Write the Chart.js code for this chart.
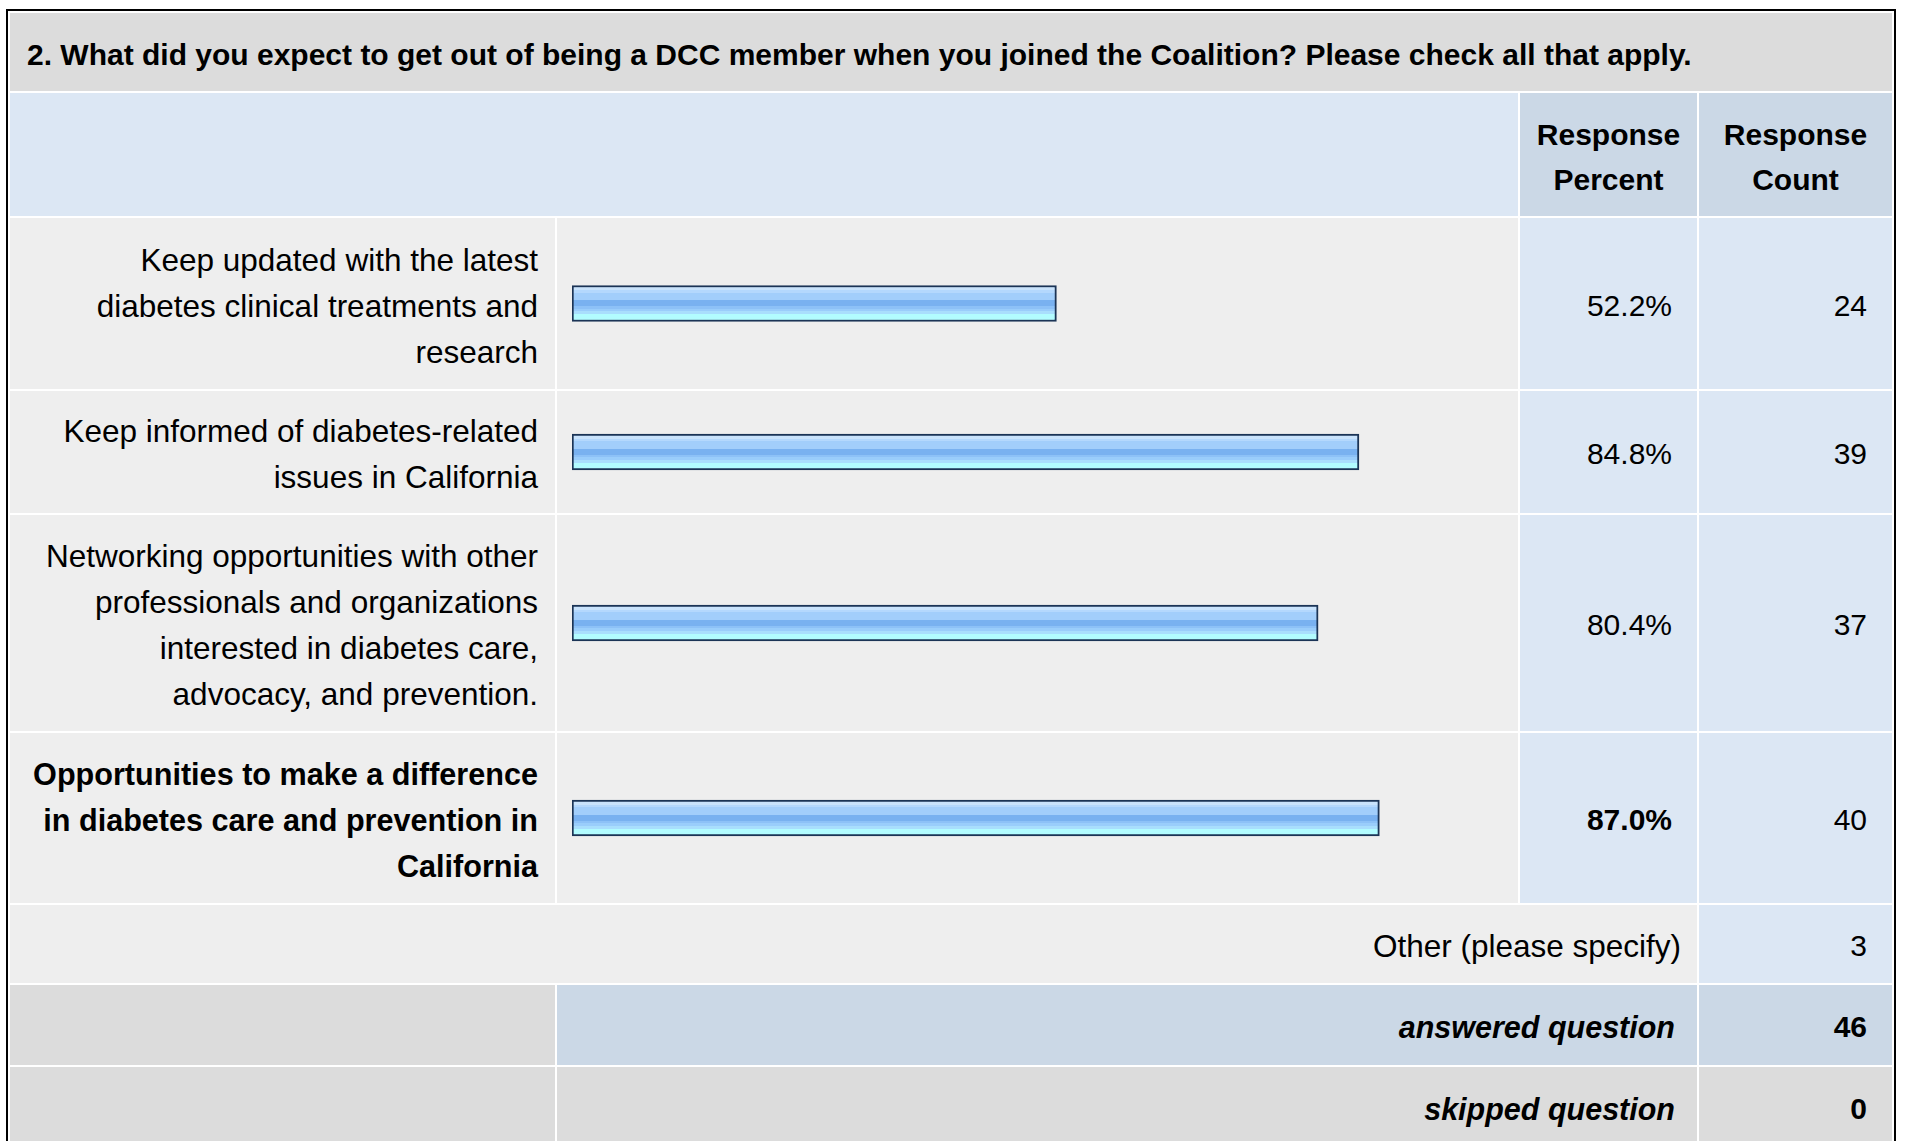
<!DOCTYPE html>
<html>
<head>
<meta charset="utf-8">
<script src="https://cdn.jsdelivr.net/npm/chart.js@4.4.1/dist/chart.umd.min.js"></script>
<style>
    html, body { margin: 0; padding: 0; background: #fff; overflow: hidden; }
    body { width: 1907px; height: 1141px; font-family: "Liberation Sans", Arial, sans-serif; color: #000; }
    #frame {
        position: absolute; left: 6px; top: 9px; width: 1886px; height: 1160px;
        border: 2px solid #000; background: #fff;
    }
    #grid {
        display: grid;
        grid-template-columns: 545px 961px 177px 193px;
        grid-template-rows: 78px 123px 171px 122px 216px 170px 78px 80px 80px;
        gap: 2px; padding: 2px;
    }
    .cell { display: flex; align-items: center; box-sizing: border-box; }
    .title { grid-column: 1 / 5; background: #dcdcdc; font-weight: bold; font-size: 30px; padding-left: 17px; padding-top: 6px; }
    .hblank { grid-column: 1 / 3; background: #dce7f4; }
    .hcol { background: #cbd8e6; font-weight: bold; font-size: 30px; line-height: 45px; justify-content: center; text-align: center; padding-top: 5px; }
    .label { background: #eeeeee; justify-content: flex-end; text-align: right; white-space: pre-line; font-size: 31.5px; line-height: 46px; padding-right: 17px; padding-top: 4px; }
    .label.strong { font-size: 30.6px; }
    .bar { background: #eeeeee; position: relative; }
    .bar .wrap { position: absolute; left: 15px; top: 0; width: 928px; height: 100%; }
    .pct { background: #dce7f4; justify-content: flex-end; font-size: 30px; padding-right: 25px; padding-top: 4px; }
    .cnt { background: #dce7f4; justify-content: flex-end; font-size: 30px; padding-right: 25px; padding-top: 4px; }
    .strong { font-weight: bold; }
    .other { grid-column: 1 / 4; background: #eeeeee; justify-content: flex-end; font-size: 31.5px; padding-right: 16px; padding-top: 4px; }
    .sumlead { background: #dcdcdc; }
    .sumtext { grid-column: 2 / 4; justify-content: flex-end; font-size: 30.5px; font-weight: bold; font-style: italic; padding-right: 22px; padding-top: 4px; }
    .sumcnt { justify-content: flex-end; font-size: 30px; font-weight: bold; padding-right: 25px; padding-top: 4px; }
    .blue { background: #cbd8e6; }
    .gray { background: #dcdcdc; }
</style>
</head>
<body>
<div id="frame"><div id="grid"></div></div>

<script>
// Survey question 2 - response summary
const questionTitle = '2. What did you expect to get out of being a DCC member when you joined the Coalition? Please check all that apply.';

const categories = [
    'Keep updated with the latest\ndiabetes clinical treatments and\nresearch',
    'Keep informed of diabetes-related\nissues in California',
    'Networking opportunities with other\nprofessionals and organizations\ninterested in diabetes care,\nadvocacy, and prevention.',
    'Opportunities to make a difference\nin diabetes care and prevention in\nCalifornia'
];
const responsePercent = [52.2, 84.8, 80.4, 87.0];
const responseCount = [24, 39, 37, 40];

const otherLabel = 'Other (please specify)';
const otherCount = 3;
const summaryLabels = ['answered question', 'skipped question'];
const summaryCounts = [46, 0];

const BAR_THICK = 36;

// glossy striped fill, top to bottom (colour, end of stripe as fraction of inner height)
const stripes = [
    ['#c9e3fc', 0.08],
    ['#b4d8fd', 0.17],
    ['#a2cefb', 0.40],
    ['#79b1f0', 0.58],
    ['#8dc1f7', 0.67],
    ['#9acdfb', 0.75],
    ['#a9defd', 0.84],
    ['#b2fcff', 1.0]
];

function barFill(context) {
    const chart = context.chart;
    const yScale = chart.scales.y;
    if (!yScale) return '#9cc8f8';
    const mid = yScale.getPixelForValue(0);
    if (!isFinite(mid)) return '#9cc8f8';
    const top = mid - BAR_THICK / 2;
    const g = chart.ctx.createLinearGradient(0, top, 0, top + BAR_THICK);
    const b = 2 / BAR_THICK;
    const inner = 1 - 2 * b;
    let start = 0;
    stripes.forEach(function(s) {
        g.addColorStop(b + inner * start, s[0]);
        g.addColorStop(Math.min(1, b + inner * s[1]), s[0]);
        start = s[1];
    });
    return g;
}

function addCell(cls, text) {
    const div = document.createElement('div');
    div.className = 'cell ' + cls;
    if (text !== undefined) div.textContent = text;
    document.getElementById('grid').appendChild(div);
    return div;
}

function buildTable() {
    addCell('title', questionTitle);
    addCell('hblank');
    addCell('hcol').innerHTML = 'Response<br>Percent';
    addCell('hcol').innerHTML = 'Response<br>Count';

    const top = Math.max.apply(null, responsePercent);

    categories.forEach(function(cat, i) {
        const strong = responsePercent[i] === top ? ' strong' : '';
        addCell('label' + strong, cat);
        const barCell = addCell('bar');
        const wrap = document.createElement('div');
        wrap.className = 'wrap';
        const canvas = document.createElement('canvas');
        wrap.appendChild(canvas);
        barCell.appendChild(wrap);
        addCell('pct' + strong, responsePercent[i].toFixed(1) + '%');
        addCell('cnt', String(responseCount[i]));
        initBar(canvas, cat, responsePercent[i]);
    });

    addCell('other', otherLabel);
    addCell('cnt', String(otherCount));

    addCell('sumlead');
    addCell('sumtext blue', summaryLabels[0]);
    addCell('sumcnt blue', String(summaryCounts[0]));
    addCell('sumlead');
    addCell('sumtext gray', summaryLabels[1]);
    addCell('sumcnt gray', String(summaryCounts[1]));
}

function initBar(canvas, label, value) {
    new Chart(canvas, {
        type: 'bar',
        data: {
            labels: [label],
            datasets: [{
                data: [value],
                backgroundColor: barFill,
                borderColor: '#1b3456',
                borderWidth: 2,
                borderSkipped: false,
                barThickness: BAR_THICK
            }]
        },
        options: {
            indexAxis: 'y',
            responsive: true,
            maintainAspectRatio: false,
            animation: false,
            events: [],
            layout: { padding: 0 },
            plugins: {
                legend: { display: false },
                tooltip: { enabled: false }
            },
            scales: {
                x: { display: false, min: 0, max: 100 },
                y: { display: false }
            }
        }
    });
}

buildTable();
</script>
</body>
</html>
